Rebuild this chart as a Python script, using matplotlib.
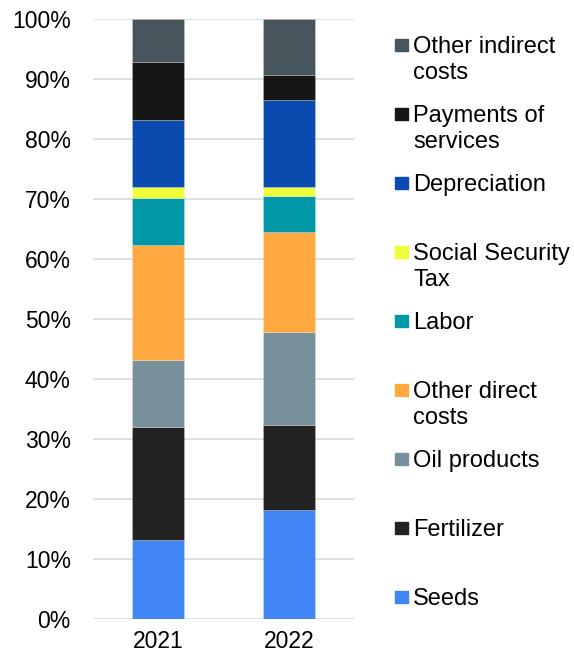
import matplotlib.pyplot as plt
from matplotlib.patches import Rectangle
from matplotlib.ticker import PercentFormatter

plt.rcParams['font.family'] = ['Liberation Sans', 'DejaVu Sans']

years = ['2021', '2022']

# cost categories, bottom to top of the stack
categories = ['Seeds', 'Fertilizer', 'Oil products', 'Other direct\ncosts', 'Labor',
              'Social Security\nTax', 'Depreciation', 'Payments of\nservices',
              'Other indirect\ncosts']
colors = ['#4285F4', '#222222', '#78909C', '#FFA940', '#0097A7',
          '#EEFF3A', '#0B4AAF', '#161616', '#47555C']

# share of total costs (%) per year
seeds = [13.3, 18.3]
fertilizer = [18.75, 14.1]
oil_products = [11.25, 15.5]
other_direct = [19.1, 16.6]
labor = [7.9, 6.1]
social_security = [1.75, 1.4]
depreciation = [11.25, 14.6]
payments = [9.6, 4.2]
other_indirect = [7.1, 9.2]

series = [seeds, fertilizer, oil_products, other_direct, labor,
          social_security, depreciation, payments, other_indirect]

fig = plt.figure(figsize=(5.74, 6.59), dpi=100)
ax = fig.add_axes([0.162, 0.0602, 0.455, 0.9105])

bottom = [0.0, 0.0]
for vals, col in zip(series, colors):
    ax.bar(years, vals, width=0.4, bottom=bottom, color=col,
           edgecolor='#FFFFFF40', linewidth=0.6, zorder=3)
    bottom = [b + v for b, v in zip(bottom, vals)]

ax.set_xlim(-0.5, 1.5)
ax.set_ylim(0, 100)
ax.set_yticks(range(0, 101, 10))
ax.yaxis.set_major_formatter(PercentFormatter(decimals=0))
ax.grid(axis='y', color='#D9D9D9', linewidth=1.2, zorder=0)
for s in ax.spines.values():
    s.set_visible(False)
ax.tick_params(length=0, labelsize=16.5, colors='#000000')
ax.tick_params(axis='y', pad=16)
ax.tick_params(axis='x', pad=8)

# legend drawn by hand: square aligned with the first line of each label
top_y = 45
step = 69
for i, (lab, col) in enumerate(zip(categories[::-1], colors[::-1])):
    yc = top_y + i * step
    fig.patches.append(Rectangle((395 / 574, 1 - (yc + 6.3) / 659), 12.6 / 574, 12.6 / 659,
                                 transform=fig.transFigure, color=col))
    fig.text(413 / 574, 1 - (yc - 9) / 659, lab, fontsize=17, va='top', ha='left',
             color='#000000', linespacing=1.22)

fig.savefig('out.png', dpi=100)
